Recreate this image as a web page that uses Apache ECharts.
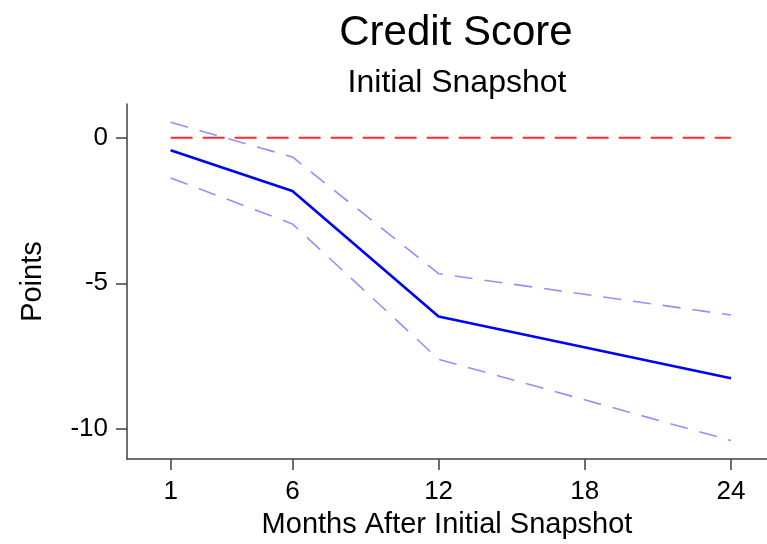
<!DOCTYPE html>
<html>
<head>
<meta charset="utf-8">
<script src="https://cdn.jsdelivr.net/npm/echarts@6/dist/echarts.min.js"></script>
<style>
  html, body { margin: 0; padding: 0; background: #fff; }
  #main { width: 767px; height: 544px; }
</style>
</head>
<body>
<div id="main"></div>
<script>
// months with estimates
var months = [1, 6, 12, 24];
var estimate = [-0.43, -1.83, -6.14, -8.26];
var upperCI = [0.53, -0.66, -4.67, -6.09];
var lowerCI = [-1.38, -2.96, -7.61, -10.40];
// reference line at zero
var zeroX = [1, 24];
var zeroY = [0, 0];
// tick labels
var xTicks = [1, 6, 12, 18, 24];
var yTicks = [0, -5, -10];

function pairs(xs, ys) {
    var out = [];
    for (var i = 0; i < xs.length; i++) out.push([xs[i], ys[i]]);
    return out;
}

var font = "'Liberation Sans', Arial, sans-serif";
var myChart = echarts.init(document.getElementById('main'));

var option = {
    animation: false,
    backgroundColor: '#fff',
    title: [
        {text: 'Credit Score', left: 451, top: 7, textAlign: 'center',
         textStyle: {fontFamily: font, fontSize: 42, fontWeight: 'normal', color: '#000'}},
        {text: 'Initial Snapshot', left: 452, top: 62, textAlign: 'center',
         textStyle: {fontFamily: font, fontSize: 32, fontWeight: 'normal', color: '#000'}}
    ],
    grid: {left: 127, right: 0, top: 104, bottom: 80},
    xAxis: {
        type: 'value',
        min: -0.79,
        max: 25.48,
        name: 'Months After Initial Snapshot',
        nameLocation: 'middle',
        nameGap: 48,
        nameTextStyle: {fontFamily: font, fontSize: 29, color: '#000'},
        splitLine: {show: false},
        axisLine: {onZero: false, lineStyle: {color: '#404040', width: 1.5}},
        axisTick: {show: true, length: 11, customValues: xTicks, lineStyle: {color: '#404040', width: 1.5}},
        axisLabel: {customValues: xTicks, margin: 20, fontFamily: font, fontSize: 26, color: '#000'}
    },
    yAxis: {
        type: 'value',
        min: -11.04,
        max: 1.16,
        name: 'Points',
        nameLocation: 'middle',
        nameGap: 80,
        nameTextStyle: {fontFamily: font, fontSize: 29, color: '#000'},
        splitLine: {show: false},
        axisLine: {show: true, onZero: false, lineStyle: {color: '#404040', width: 1.5}},
        axisTick: {show: true, length: 11, customValues: yTicks, lineStyle: {color: '#404040', width: 1.5}},
        axisLabel: {customValues: yTicks, margin: 19, fontFamily: font, fontSize: 26, color: '#000'}
    },
    series: [
        {
            name: 'zero', type: 'line', data: pairs(zeroX, zeroY), symbol: 'none',
            lineStyle: {color: '#ff2a2a', width: 2, type: [22, 10]}
        },
        {
            name: 'upper', type: 'line', data: pairs(months, upperCI), symbol: 'none',
            lineStyle: {color: '#9090ff', width: 1.6, type: [18, 12]}
        },
        {
            name: 'lower', type: 'line', data: pairs(months, lowerCI), symbol: 'none',
            lineStyle: {color: '#9090ff', width: 1.6, type: [18, 12]}
        },
        {
            name: 'estimate', type: 'line', data: pairs(months, estimate), symbol: 'none',
            lineStyle: {color: '#0000ff', width: 2.6}
        }
    ]
};

myChart.setOption(option);
</script>
</body>
</html>
